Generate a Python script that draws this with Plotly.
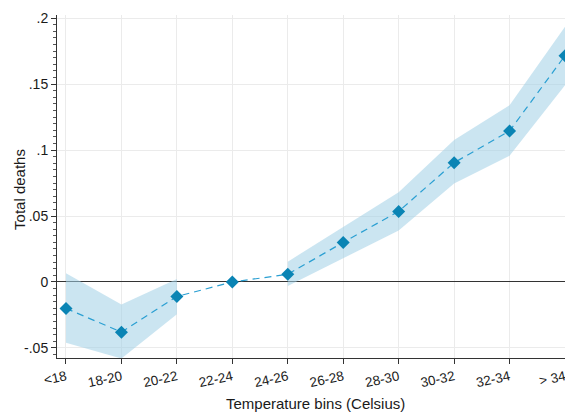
import plotly.graph_objects as go

# Temperature bins (22-24 is the reference category)
bins = ["<18", "18-20", "20-22", "22-24", "24-26", "26-28", "28-30", "30-32", "32-34", "> 34"]
estimate = [-0.020, -0.038, -0.011, 0.0, 0.0058, 0.030, 0.0535, 0.0904, 0.1144, 0.1715]
ci_upper = [0.0066, -0.017, 0.0023, None, 0.0154, 0.042, 0.068, 0.1076, 0.134, 0.1934]
ci_lower = [-0.046, -0.058, -0.0245, None, -0.003, 0.018, 0.039, 0.0747, 0.0957, 0.149]

ytick_vals = [-0.05, 0, 0.05, 0.1, 0.15, 0.2]
ytick_text = ["-.05", "0", ".05", ".1", ".15", ".2"]

BAND = "rgba(160,207,230,0.55)"
LINE = "#2a9fd2"
MARK = "#0a84b4"
FONT = "Liberation Sans, Arial, sans-serif"
TEXT = "#1a1a1a"

fig = go.Figure()

# confidence band, one polygon per run of bins that have intervals
segments = []
run = []
for i, u in enumerate(ci_upper):
    if u is None:
        if run:
            segments.append(run)
        run = []
    else:
        run.append(i)
if run:
    segments.append(run)

for seg in segments:
    xs = [bins[i] for i in seg] + [bins[i] for i in reversed(seg)]
    ys = [ci_upper[i] for i in seg] + [ci_lower[i] for i in reversed(seg)]
    fig.add_trace(go.Scatter(
        x=xs, y=ys, mode="lines", fill="toself", fillcolor=BAND,
        line=dict(width=0), hoverinfo="skip", showlegend=False,
    ))

fig.add_trace(go.Scatter(
    x=bins, y=estimate, mode="lines+markers",
    line=dict(color=LINE, width=1.2, dash="7px,5px"),
    marker=dict(symbol="diamond", size=10, color=MARK),
    showlegend=False, cliponaxis=False,
))

fig.update_layout(
    width=565, height=412,
    margin=dict(l=57, r=0, t=15, b=54),
    paper_bgcolor="white", plot_bgcolor="white",
    font=dict(family=FONT, color=TEXT, size=13),
)

fig.update_xaxes(
    type="category", categoryorder="array", categoryarray=bins,
    range=[-0.162, 9.0],
    showgrid=True, gridcolor="#ebebeb", gridwidth=1,
    showline=True, linecolor="#333", linewidth=1,
    ticks="outside", ticklen=5, tickcolor="#333",
    tickangle=-12, tickfont=dict(size=13.5, color=TEXT),
    automargin=False,
)

fig.update_yaxes(
    range=[-0.0576, 0.2023],
    tickvals=ytick_vals, ticktext=ytick_text,
    showgrid=True, gridcolor="#ebebeb", gridwidth=1,
    zeroline=True, zerolinecolor="#333", zerolinewidth=1,
    showline=True, linecolor="#333", linewidth=1,
    ticks="outside", ticklen=5, tickcolor="#333",
    tickfont=dict(size=14, color=TEXT),
    minor=dict(dtick=0.005, tick0=0, ticks="outside", ticklen=3, tickcolor="#555", showgrid=False),
    automargin=False,
)

# axis titles
fig.add_annotation(
    text="Temperature bins (Celsius)", xref="paper", yref="paper",
    x=0.508, y=0, yshift=-45, xanchor="center", yanchor="middle",
    showarrow=False, font=dict(size=15, color=TEXT),
)
fig.add_annotation(
    text="Total deaths", xref="paper", yref="paper",
    x=0, xshift=-37, y=0.49, xanchor="center", yanchor="middle",
    textangle=-90, showarrow=False, font=dict(size=15, color=TEXT),
)

fig.write_html("out.html")
